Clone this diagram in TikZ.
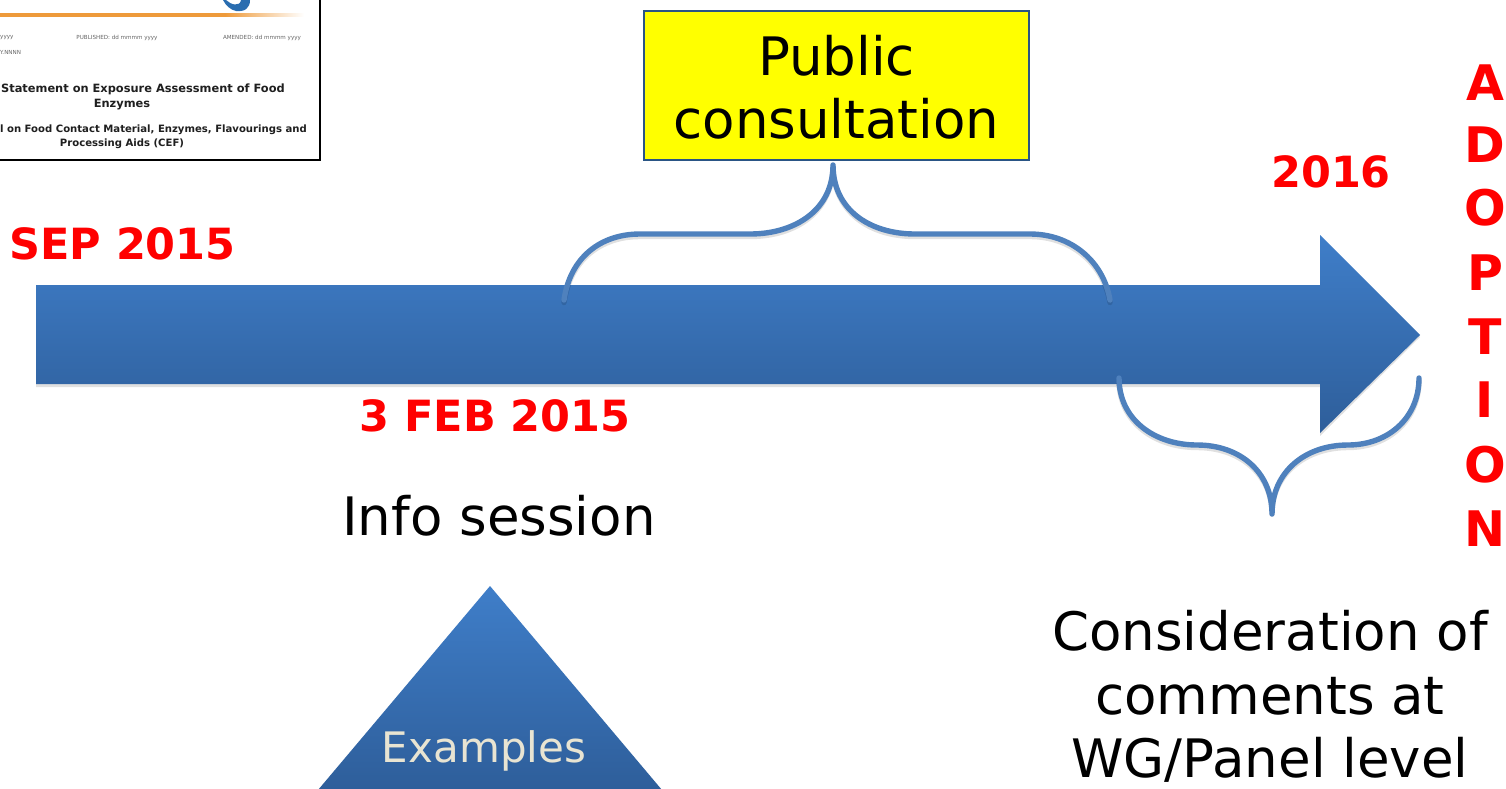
\documentclass[tikz,border=0pt]{standalone}
\usepackage{fontspec}
\setmainfont{DejaVu Sans}
\definecolor{redtxt}{RGB}{255,0,0}
\definecolor{pureyellow}{RGB}{255,255,0}
\definecolor{bluetop}{HTML}{3F7EC9}
\definecolor{bluebot}{HTML}{2E5E9A}
\definecolor{bracec}{HTML}{4F81BD}
\definecolor{boxedge}{HTML}{2A5585}
\definecolor{orangeln}{HTML}{EE9A3A}
\definecolor{cream}{HTML}{E8E4D2}
\definecolor{logoblue}{HTML}{2A6DB0}
\pgfdeclarehorizontalshading{orangefade}{100bp}{color(0bp)=(orangeln); color(25bp)=(orangeln); color(62bp)=(orangeln); color(75bp)=(white); color(100bp)=(white)}
\tikzset{
  x=1pt,y=-1pt,
  bluefill/.style={top color=bluetop,bottom color=bluebot,draw=none},
  bracestyle/.style={draw=bracec,line width=5.4pt,line cap=round,line join=round},
  braceshadow/.style={draw=black,opacity=.12,line width=5.4pt,line cap=round,line join=round},
  datelabel/.style={font=\fontsize{43}{50}\selectfont\bfseries,text=redtxt,inner sep=0pt},
  vertlabel/.style={font=\fontsize{49}{56}\selectfont\bfseries,text=redtxt,inner sep=0pt},
  bigtext/.style={font=\fontsize{53}{63.5}\selectfont,align=center,inner sep=0pt,text=black},
  docsmall/.style={font=\fontsize{5.6}{7}\selectfont,text=black!60,inner sep=0pt},
  doctitle/.style={font=\fontsize{11.4}{14}\selectfont\bfseries,text=black!88,inner sep=0pt},
  docsub/.style={font=\fontsize{10.1}{14}\selectfont\bfseries,text=black!88,inner sep=0pt},
}
\begin{document}
\begin{tikzpicture}
\useasboundingbox (0,0) rectangle (1506,788);
\clip (0,0) rectangle (1506,788);
\fill[white] (0,0) rectangle (1506,788);

% document thumbnail
\draw[black,line width=1.8pt,fill=white] (-10,-10) rectangle (320,160);
\shade[shading=orangefade,draw=none] (0,13) rectangle (304,16);
\fill[logoblue] (241,0) -- (250,0) .. controls (250,8) and (245,12) .. (236,11) .. controls (231,10) and (226,6) .. (223,0) -- (226,0) .. controls (231,5) and (240,7) .. (241,0) -- cycle;
\node[docsmall,anchor=west] (ya) at (0,37.5) {yyyy};
\node[docsmall] (pub) at (117,37.5) {PUBLISHED: dd mmmm yyyy};
\node[docsmall] (ame) at (262,37.5) {AMENDED: dd mmmm yyyy};
\node[docsmall,anchor=west] (doi) at (0,52) {Y.NNNN};
\node[doctitle,anchor=east] (t1a) at (285,89.5) {Statement on Exposure Assessment of Food};
\node[doctitle] (t1b) at (122,105) {Enzymes};
\node[docsub,anchor=east] (t2a) at (307,130) {l on Food Contact Material, Enzymes, Flavourings and};
\node[docsub] (t2b) at (122,144) {Processing Aids (CEF)};

% main arrow
\fill[black,opacity=.12] (36,287) -- (1320,287) -- (1320,237) -- (1420,337) -- (1320,436) -- (1320,387) -- (36,387) -- cycle;
\shade[bluefill] (36,285) -- (1320,285) -- (1320,235) -- (1420,335) -- (1320,433) -- (1320,384) -- (36,384) -- cycle;

% yellow box
\node[draw=boxedge,line width=1.8pt,fill=pureyellow,minimum width=385pt,minimum height=149pt,inner sep=0pt] (pc) at (836.5,85.5) {};
\node[bigtext] (pct) at (836.5,87) {Public\\consultation};

% top brace
\coordinate (cusp) at (833,165);
\draw[braceshadow,yshift=-2.5pt] (564,300) .. controls (570,258) and (600,234) .. (640,234) -- (750,234) .. controls (795,234) and (833,210) .. (cusp) .. controls (833,210) and (870,234) .. (915,234) -- (1030,234) .. controls (1070,234) and (1103,260) .. (1110,300);
\draw[bracestyle] (564,300) .. controls (570,258) and (600,234) .. (640,234) -- (750,234) .. controls (795,234) and (833,210) .. (cusp) .. controls (833,210) and (870,234) .. (915,234) -- (1030,234) .. controls (1070,234) and (1103,260) .. (1110,300);

% bottom brace
\coordinate (tipb) at (1272,514);
\draw[braceshadow,yshift=-2.5pt] (1119,378) .. controls (1119,420) and (1155,445) .. (1197,445) .. controls (1240,445) and (1272,472) .. (tipb) .. controls (1272,472) and (1305,445) .. (1348,445) .. controls (1388,445) and (1419,418) .. (1419,378);
\draw[bracestyle] (1119,378) .. controls (1119,420) and (1155,445) .. (1197,445) .. controls (1240,445) and (1272,472) .. (tipb) .. controls (1272,472) and (1305,445) .. (1348,445) .. controls (1388,445) and (1419,418) .. (1419,378);

% triangle
\shade[bluefill] (490,586) -- (662,790) -- (318,790) -- cycle;
\node[inner sep=0pt,text=cream,font=\fontsize{42}{48}\selectfont] (ex) at (484,751) {Examples};

% dates
\node[datelabel] (sep) at (122.5,244) {SEP 2015};
\node[datelabel] (feb) at (495,416) {3 FEB 2015};
\node[datelabel] (y16) at (1331,172) {2016};

% adoption
\node[vertlabel] (a1) at (1485,83) {A};
\node[vertlabel] (a2) at (1485,145) {D};
\node[vertlabel] (a3) at (1485,208) {O};
\node[vertlabel] (a4) at (1485,273) {P};
\node[vertlabel] (a5) at (1485,337) {T};
\node[vertlabel] (a6) at (1485,400) {I};
\node[vertlabel] (a7) at (1485,465) {O};
\node[vertlabel] (a8) at (1485,529) {N};

% big labels
\node[bigtext] (info) at (499,516) {Info session};
\node[bigtext] (cons) at (1270,696.5) {Consideration of\\comments at\\WG/Panel level};
\end{tikzpicture}
\end{document}
